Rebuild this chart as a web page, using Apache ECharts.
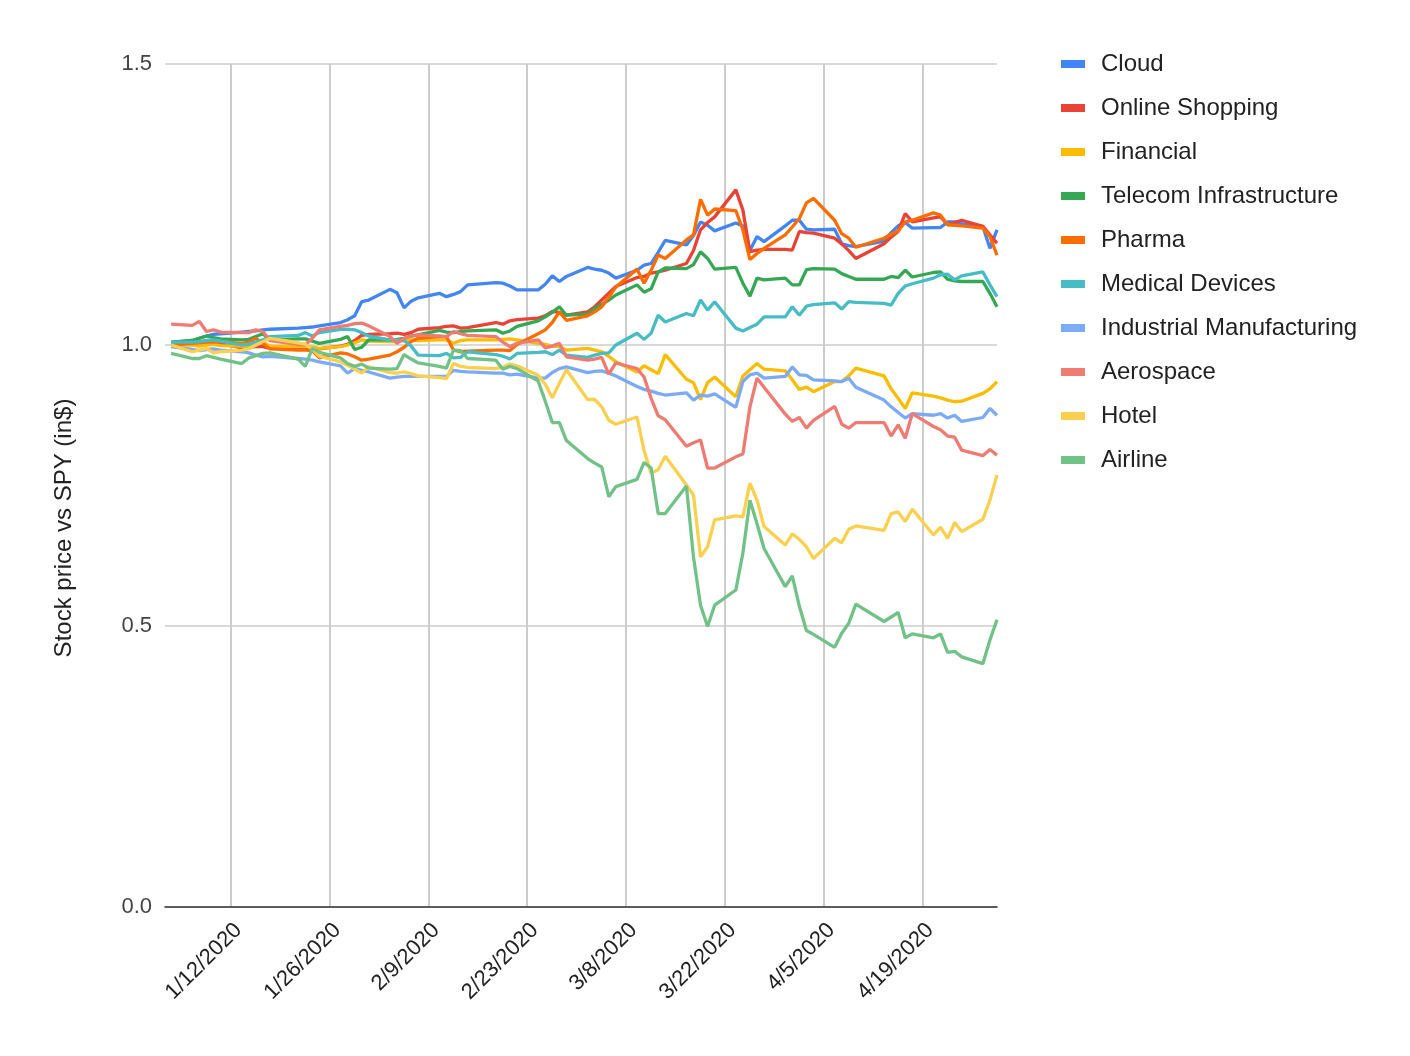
<!DOCTYPE html>
<html><head><meta charset="utf-8">
<script src="https://cdn.jsdelivr.net/npm/echarts@6/dist/echarts.min.js"></script>
<style>html,body{margin:0;padding:0;background:#fff}#chart{width:1410px;height:1056px}</style>
</head><body><div id="chart"></div>
<script>
// trading dates (one sample per day)
const dates = [
'2020-01-03','2020-01-06','2020-01-07','2020-01-08','2020-01-09','2020-01-10',
'2020-01-13','2020-01-14','2020-01-15','2020-01-16','2020-01-17',
'2020-01-21','2020-01-22','2020-01-23','2020-01-24',
'2020-01-27','2020-01-28','2020-01-29','2020-01-30','2020-01-31',
'2020-02-03','2020-02-04','2020-02-05','2020-02-06','2020-02-07',
'2020-02-10','2020-02-11','2020-02-12','2020-02-13','2020-02-14',
'2020-02-18','2020-02-19','2020-02-20','2020-02-21',
'2020-02-24','2020-02-25','2020-02-26','2020-02-27','2020-02-28',
'2020-03-02','2020-03-03','2020-03-04','2020-03-05','2020-03-06',
'2020-03-09','2020-03-10','2020-03-11','2020-03-12','2020-03-13',
'2020-03-16','2020-03-17','2020-03-18','2020-03-19','2020-03-20',
'2020-03-23','2020-03-24','2020-03-25','2020-03-26','2020-03-27',
'2020-03-30','2020-03-31','2020-04-01','2020-04-02','2020-04-03',
'2020-04-06','2020-04-07','2020-04-08','2020-04-09',
'2020-04-13','2020-04-14','2020-04-15','2020-04-16','2020-04-17',
'2020-04-20','2020-04-21','2020-04-22','2020-04-23','2020-04-24',
'2020-04-27','2020-04-28','2020-04-29'];

const cloud = [
1.004,1.008,1.012,1.016,1.019,1.020,
1.023,1.024,1.025,1.027,1.028,
1.030,1.031,1.032,1.034,
1.040,1.045,1.052,1.077,1.080,
1.099,1.093,1.066,1.078,1.084,
1.092,1.086,1.090,1.095,1.107,
1.111,1.110,1.105,1.098,
1.098,1.108,1.123,1.113,1.122,
1.138,1.135,1.133,1.128,1.119,
1.133,1.142,1.145,1.165,1.186,
1.178,1.195,1.219,1.213,1.203,
1.217,1.212,1.168,1.193,1.184,
1.212,1.222,1.222,1.206,1.205,
1.206,1.180,1.177,1.175,
1.185,1.200,1.212,1.218,1.208,
1.209,1.209,1.219,1.219,1.216,
1.211,1.172,1.205];

const onlineShopping = [
1.003,1.004,1.005,1.006,1.004,1.003,
0.995,0.996,0.997,0.997,0.994,
0.995,0.996,0.995,0.993,
0.998,1.001,1.008,1.017,1.019,
1.020,1.021,1.019,1.022,1.028,
1.031,1.033,1.034,1.030,1.031,
1.040,1.037,1.043,1.045,
1.048,1.052,1.060,1.058,1.053,
1.059,1.068,1.080,1.092,1.104,
1.120,1.122,1.128,1.130,1.133,
1.145,1.168,1.205,1.218,1.228,
1.276,1.240,1.166,1.169,1.170,
1.170,1.169,1.202,1.200,1.199,
1.190,1.180,1.168,1.154,
1.180,1.192,1.202,1.234,1.219,
1.226,1.228,1.214,1.218,1.222,
1.211,1.196,1.181];

const financial = [
1.000,1.000,0.998,1.000,1.001,0.999,
0.998,0.997,1.000,1.005,0.998,
0.997,0.997,0.996,0.994,
0.997,1.000,1.004,1.009,1.007,
1.006,1.006,1.008,1.009,1.008,
1.009,1.009,1.003,1.008,1.009,
1.009,1.010,1.011,1.009,
1.003,1.001,0.998,0.997,0.991,
0.994,0.991,0.988,0.980,0.970,
0.952,0.963,0.956,0.949,0.983,
0.939,0.933,0.903,0.933,0.943,
0.908,0.945,0.956,0.967,0.957,
0.954,0.938,0.921,0.925,0.917,
0.935,0.935,0.945,0.959,
0.945,0.922,0.905,0.887,0.915,
0.909,0.906,0.902,0.899,0.900,
0.914,0.922,0.935];

const telecomInfrastructure = [
1.005,1.008,1.012,1.016,1.013,1.011,
1.009,1.010,1.015,1.020,1.009,
1.011,1.011,1.007,1.003,
1.010,1.015,0.992,0.996,1.009,
1.009,1.010,1.012,1.016,1.018,
1.026,1.023,1.022,1.024,1.025,
1.027,1.021,1.025,1.033,
1.043,1.050,1.058,1.068,1.053,
1.055,1.065,1.072,1.080,1.089,
1.107,1.094,1.100,1.130,1.137,
1.136,1.143,1.166,1.154,1.135,
1.138,1.110,1.087,1.119,1.116,
1.119,1.107,1.107,1.134,1.136,
1.135,1.127,1.122,1.117,
1.117,1.122,1.120,1.133,1.121,
1.129,1.130,1.117,1.114,1.113,
1.113,1.092,1.068];

const pharma = [
1.000,1.003,1.004,1.005,1.005,1.006,
1.003,1.005,1.012,1.003,0.993,
0.991,0.991,0.990,0.977,
0.986,0.984,0.979,0.973,0.975,
0.982,0.988,0.996,1.006,1.012,
1.015,1.015,0.991,0.988,0.989,
0.991,0.991,0.990,1.001,
1.020,1.027,1.040,1.059,1.044,
1.052,1.059,1.068,1.085,1.103,
1.135,1.110,1.133,1.160,1.154,
1.187,1.196,1.259,1.231,1.242,
1.239,1.205,1.152,1.163,1.172,
1.196,1.210,1.225,1.253,1.261,
1.222,1.198,1.190,1.174,
1.190,1.197,1.203,1.219,1.222,
1.235,1.231,1.214,1.213,1.212,
1.208,1.193,1.160];

const medicalDevices = [
1.005,1.005,1.006,1.008,1.009,1.007,
1.000,1.001,1.005,1.009,1.015,
1.017,1.022,1.016,1.022,
1.028,1.028,1.027,1.022,1.016,
1.009,1.009,1.008,0.998,0.982,
0.981,0.985,0.977,0.978,0.988,
0.983,0.980,0.975,0.985,
0.987,0.988,0.983,0.991,0.982,
0.978,0.982,0.985,0.986,1.000,
1.021,1.010,1.021,1.053,1.041,
1.056,1.052,1.080,1.062,1.077,
1.030,1.025,1.031,1.037,1.050,
1.050,1.068,1.053,1.069,1.072,
1.075,1.064,1.077,1.076,
1.074,1.071,1.092,1.105,1.109,
1.119,1.125,1.126,1.116,1.123,
1.130,1.107,1.086];

const industrialManufacturing = [
0.997,0.992,0.990,0.992,0.993,0.991,
0.988,0.986,0.982,0.979,0.980,
0.976,0.975,0.973,0.970,
0.963,0.950,0.958,0.955,0.952,
0.941,0.943,0.944,0.944,0.944,
0.944,0.944,0.955,0.953,0.952,
0.950,0.950,0.947,0.948,
0.941,0.941,0.951,0.958,0.961,
0.951,0.953,0.954,0.950,0.945,
0.926,0.921,0.918,0.914,0.911,
0.915,0.902,0.911,0.909,0.913,
0.889,0.935,0.947,0.950,0.941,
0.944,0.961,0.947,0.946,0.938,
0.936,0.935,0.941,0.925,
0.902,0.890,0.880,0.870,0.878,
0.875,0.878,0.870,0.875,0.864,
0.871,0.887,0.875];

const aerospace = [
1.037,1.035,1.042,1.024,1.027,1.023,
1.022,1.022,1.027,1.024,1.008,
1.001,1.000,1.012,1.027,
1.033,1.035,1.038,1.039,1.034,
1.015,1.003,1.012,1.016,1.018,
1.016,1.015,1.024,1.020,1.017,
1.015,1.005,0.997,1.003,
1.009,0.995,0.998,1.003,0.979,
0.973,0.975,0.978,0.948,0.968,
0.958,0.943,0.905,0.874,0.867,
0.820,0.826,0.831,0.781,0.781,
0.801,0.806,0.890,0.941,0.925,
0.877,0.864,0.871,0.852,0.866,
0.891,0.859,0.852,0.862,
0.862,0.838,0.858,0.834,0.878,
0.855,0.849,0.838,0.836,0.813,
0.803,0.814,0.804];

const hotel = [
1.000,0.988,0.991,0.994,0.986,0.988,
0.991,0.993,1.000,1.006,1.012,
1.004,1.001,0.993,0.980,
0.970,0.964,0.957,0.950,0.961,
0.951,0.950,0.952,0.949,0.945,
0.942,0.940,0.967,0.962,0.960,
0.958,0.961,0.966,0.963,
0.946,0.930,0.906,0.932,0.956,
0.903,0.903,0.890,0.866,0.859,
0.872,0.812,0.772,0.778,0.802,
0.751,0.733,0.623,0.641,0.689,
0.696,0.694,0.754,0.724,0.677,
0.644,0.664,0.654,0.641,0.620,
0.656,0.648,0.672,0.678,
0.670,0.700,0.703,0.686,0.708,
0.662,0.676,0.656,0.684,0.668,
0.690,0.724,0.769];

const airline = [
0.985,0.976,0.976,0.981,0.978,0.975,
0.967,0.977,0.981,0.985,0.986,
0.975,0.962,0.994,0.987,
0.977,0.967,0.962,0.966,0.959,
0.957,0.958,0.983,0.975,0.968,
0.962,0.959,0.991,0.990,0.976,
0.973,0.957,0.962,0.958,
0.936,0.900,0.862,0.862,0.830,
0.798,0.790,0.783,0.730,0.748,
0.761,0.791,0.781,0.700,0.700,
0.749,0.623,0.537,0.499,0.537,
0.564,0.630,0.724,0.682,0.638,
0.570,0.589,0.535,0.492,0.485,
0.462,0.487,0.505,0.539,
0.508,0.516,0.524,0.479,0.486,
0.479,0.486,0.453,0.455,0.445,
0.433,0.475,0.511];

const seriesNames = ['Cloud','Online Shopping','Financial','Telecom Infrastructure','Pharma',
  'Medical Devices','Industrial Manufacturing','Aerospace','Hotel','Airline'];
const seriesValues = [cloud, onlineShopping, financial, telecomInfrastructure, pharma,
  medicalDevices, industrialManufacturing, aerospace, hotel, airline];
const seriesColors = ['#4285F4','#EA4335','#FBBC04','#34A853','#FF6D01',
  '#46BDC6','#7BAAF7','#F07B72','#FCD04F','#71C287'];

const tickDates = ['2020-01-12','2020-01-26','2020-02-09','2020-02-23','2020-03-08','2020-03-22','2020-04-05','2020-04-19'];
const yTicks = [0, 0.5, 1.0, 1.5];
const yTitle = 'Stock price vs SPY (in$)';

const SAMPLE_TIME = 'T13:40:00Z';
const AXIS_START = '2020-01-02T16:48:00Z';
const AXIS_END = '2020-04-29T13:40:00Z';
const FONT = '"Liberation Sans", Arial, sans-serif';

// dates -> day numbers (days since 2020-01-01 UTC)
const DAY = 86400000;
const EPOCH = Date.parse('2020-01-01T00:00:00Z');
const toDay = s => (Date.parse(s) - EPOCH) / DAY;
const tickDays = tickDates.map(d => toDay(d + 'T00:00:00Z'));
function fmtDay(v) {
  const d = new Date(EPOCH + Math.round(v * 24) / 24 * DAY);
  return (d.getUTCMonth() + 1) + '/' + d.getUTCDate() + '/' + d.getUTCFullYear();
}

const chart = echarts.init(document.getElementById('chart'), null, {renderer: 'canvas'});
chart.setOption({
  animation: false,
  backgroundColor: '#fff',
  grid: {left: 165, right: 413, top: 64, bottom: 149, containLabel: false},
  legend: {
    orient: 'vertical', left: 1061, top: 52, padding: 0,
    icon: 'rect', itemWidth: 24, itemHeight: 8, itemGap: 20,
    selectedMode: false,
    textStyle: {fontSize: 24, fontFamily: FONT, color: '#222', lineHeight: 24, padding: [0, 0, 0, 11]},
    data: seriesNames
  },
  xAxis: {
    type: 'value',
    min: toDay(AXIS_START), max: toDay(AXIS_END),
    axisLine: {show: true, onZero: false, lineStyle: {color: '#333', width: 1.5}},
    axisTick: {show: false, customValues: tickDays},
    axisLabel: {customValues: tickDays, rotate: 45, formatter: v => fmtDay(v),
      verticalAlign: 'top', align: 'right',
      fontSize: 22, fontFamily: FONT, color: '#222', margin: 12, hideOverlap: false},
    splitLine: {show: true, lineStyle: {color: '#ccc', width: 2}}
  },
  yAxis: {
    type: 'value', min: yTicks[0], max: yTicks[yTicks.length - 1], interval: 0.5,
    axisLine: {show: false}, axisTick: {show: false},
    axisLabel: {formatter: v => v.toFixed(1), fontSize: 22, fontFamily: FONT, color: '#444', margin: 13},
    splitLine: {show: true, lineStyle: {color: '#ccc', width: 1.5}}
  },
  graphic: [{
    type: 'text', x: 64, y: 528, rotation: Math.PI / 2,
    style: {text: yTitle, fill: '#222', fontSize: 24, fontFamily: FONT, align: 'center', verticalAlign: 'middle'}
  }],
  series: seriesNames.map((name, i) => ({
    name, type: 'line', showSymbol: false, symbol: 'none',
    data: dates.map((d, j) => [toDay(d + SAMPLE_TIME), seriesValues[i][j]]),
    lineStyle: {width: 3.3, color: seriesColors[i]},
    itemStyle: {color: seriesColors[i]},
    emphasis: {disabled: true}
  }))
});
</script></body></html>
